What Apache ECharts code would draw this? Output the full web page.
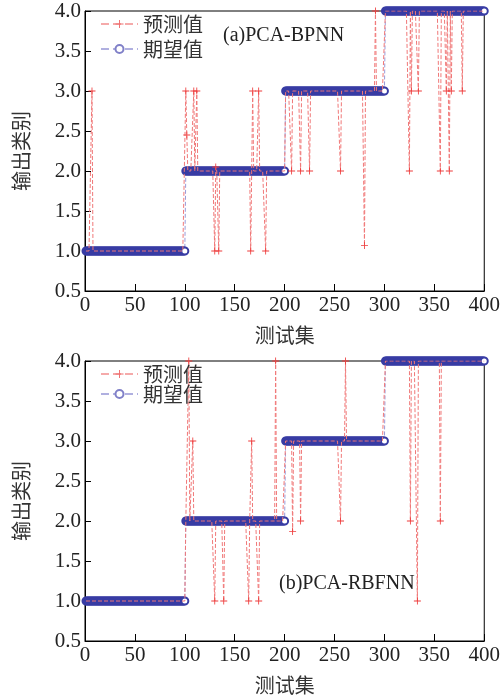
<!DOCTYPE html>
<html>
<head>
<meta charset="utf-8">
<script src="https://cdn.jsdelivr.net/npm/echarts@6/dist/echarts.min.js"></script>
<style>
html,body{margin:0;padding:0;background:#fff;}
#chart{width:503px;height:700px;}
</style>
</head>
<body>
<div id="chart"></div>
<script>
// ---- data ----
const classLabels = [1, 2, 3, 4];
const samplesPerClass = 100;
const xTickValues = [0, 50, 100, 150, 200, 250, 300, 350, 400];
const yTickValues = [0.5, 1.0, 1.5, 2.0, 2.5, 3.0, 3.5, 4.0];
const seriesNames = ['预测值', '期望值'];
const panelTitles = ['(a)PCA-BPNN', '(b)PCA-RBFNN'];
// misclassified samples (index -> predicted value)
const errIdxA = [7, 101, 102, 109, 112, 130, 131, 134, 166, 168, 174, 181, 207, 216, 225, 256, 280, 291, 325, 327, 334, 356, 362, 365, 367, 378];
const errValA = [3, 3, 2.45, 3, 3, 1, 2.05, 1, 1, 3, 3, 1, 2, 2, 2, 2, 1.07, 4, 2, 3, 3, 2, 3, 2, 3, 3];
const errIdxB = [104, 108, 130, 139, 164, 167, 174, 191, 208, 216, 256, 261, 326, 333, 356];
const errValB = [4, 3, 1, 1, 1, 3, 1, 4, 1.87, 2, 2, 4, 2, 1, 2];

// ---- build series ----
const expected = [];
for (let c = 0; c < classLabels.length; c++) {
  for (let k = 1; k <= samplesPerClass; k++) {
    expected.push([c * samplesPerClass + k, classLabels[c]]);
  }
}
function predicted(idx, val) {
  const m = {};
  idx.forEach((i, j) => { m[i] = val[j]; });
  return expected.map(p => {
    if (m[p[0]] !== undefined) return { value: [p[0], m[p[0]]], symbolSize: 7 };
    return { value: [p[0], p[1]] };
  });
}
const predA = predicted(errIdxA, errValA);
const predB = predicted(errIdxB, errValB);

const serif = "'Liberation Serif','Noto Sans CJK SC',serif";
const cjk = "'Noto Sans CJK SC','Liberation Serif',sans-serif";
const plusPath = 'path://M4.4,0H5.6V4.4H10V5.6H5.6V10H4.4V5.6H0V4.4H4.4Z';

function xAx(g) {
  return {
    type: 'value', gridIndex: g, min: 0, max: 400, interval: 50,
    name: '测试集', nameLocation: 'middle', nameGap: 34,
    nameTextStyle: { fontFamily: cjk, fontSize: 20, color: '#333' },
    axisLine: { lineStyle: { color: '#000', width: 1 } },
    axisTick: { inside: true, length: 7, lineStyle: { color: '#000' } },
    axisLabel: { fontFamily: serif, fontSize: 21, color: '#222', margin: 4,
      formatter: v => xTickValues.includes(v) ? String(v) : '' },
    splitLine: { show: false }
  };
}
function yAx(g) {
  return {
    type: 'value', gridIndex: g, min: 0.5, max: 4.0, interval: 0.5,
    name: '输出类别', nameLocation: 'middle', nameGap: 54,
    nameTextStyle: { fontFamily: cjk, fontSize: 20, color: '#333' },
    axisLine: { lineStyle: { color: '#000', width: 1 } },
    axisTick: { inside: true, length: 6, lineStyle: { color: '#000' } },
    axisLabel: { fontFamily: serif, fontSize: 21, color: '#222', margin: 4,
      formatter: v => yTickValues.some(t => Math.abs(t - v) < 1e-9) ? v.toFixed(1) : '' },
    splitLine: { show: false }
  };
}
function expSeries(g) {
  return {
    name: seriesNames[1], type: 'line', xAxisIndex: g, yAxisIndex: g,
    data: expected, symbol: 'emptyCircle', symbolSize: 7, showAllSymbol: true,
    itemStyle: { color: '#383ca4', borderWidth: 1.3 },
    lineStyle: { color: '#9a9ad8', width: 1, type: 'dashed' },
    animation: false, z: 2
  };
}
function predSeries(g, data) {
  return {
    name: seriesNames[0], type: 'line', xAxisIndex: g, yAxisIndex: g,
    data: data, symbol: plusPath, symbolSize: 0, showAllSymbol: true,
    itemStyle: { color: '#ee3c3c' },
    lineStyle: { color: '#f07878', width: 1, type: 'dashed' },
    animation: false, z: 3
  };
}
function legend(top, gap, lh) {
  return {
    data: [
      { name: seriesNames[0], itemStyle: { color: '#f07070' }, lineStyle: { color: '#f5aaaa' } },
      { name: seriesNames[1], itemStyle: { color: '#8080c8', borderColor: '#8080c8' }, lineStyle: { color: '#b0b0e0' } }
    ],
    orient: 'vertical', left: 100, top: top, padding: 0,
    itemWidth: 37, itemHeight: 10, itemGap: gap, selectedMode: false,
    textStyle: { fontFamily: cjk, fontSize: 20, color: '#333', lineHeight: lh }
  };
}

const chart = echarts.init(document.getElementById('chart'), null, { renderer: 'canvas' });
chart.setOption({
  backgroundColor: '#fff',
  animation: false,
  title: [
    { text: panelTitles[0], left: 218, top: 21,
      textStyle: { fontFamily: serif, fontSize: 20, fontWeight: 'normal', color: '#222' } },
    { text: panelTitles[1], left: 274, top: 569,
      textStyle: { fontFamily: serif, fontSize: 20, fontWeight: 'normal', color: '#222' } }
  ],
  legend: [legend(13, 3, 22), legend(364, 0, 20)],
  grid: [
    { left: 85, top: 11, width: 403, height: 280, show: true, borderColor: '#000', borderWidth: 1, backgroundColor: 'transparent' },
    { left: 85, top: 361, width: 403, height: 280, show: true, borderColor: '#000', borderWidth: 1, backgroundColor: 'transparent' }
  ],
  xAxis: [xAx(0), xAx(1)],
  yAxis: [yAx(0), yAx(1)],
  series: [expSeries(0), predSeries(0, predA), expSeries(1), predSeries(1, predB)]
});
</script>
</body>
</html>
